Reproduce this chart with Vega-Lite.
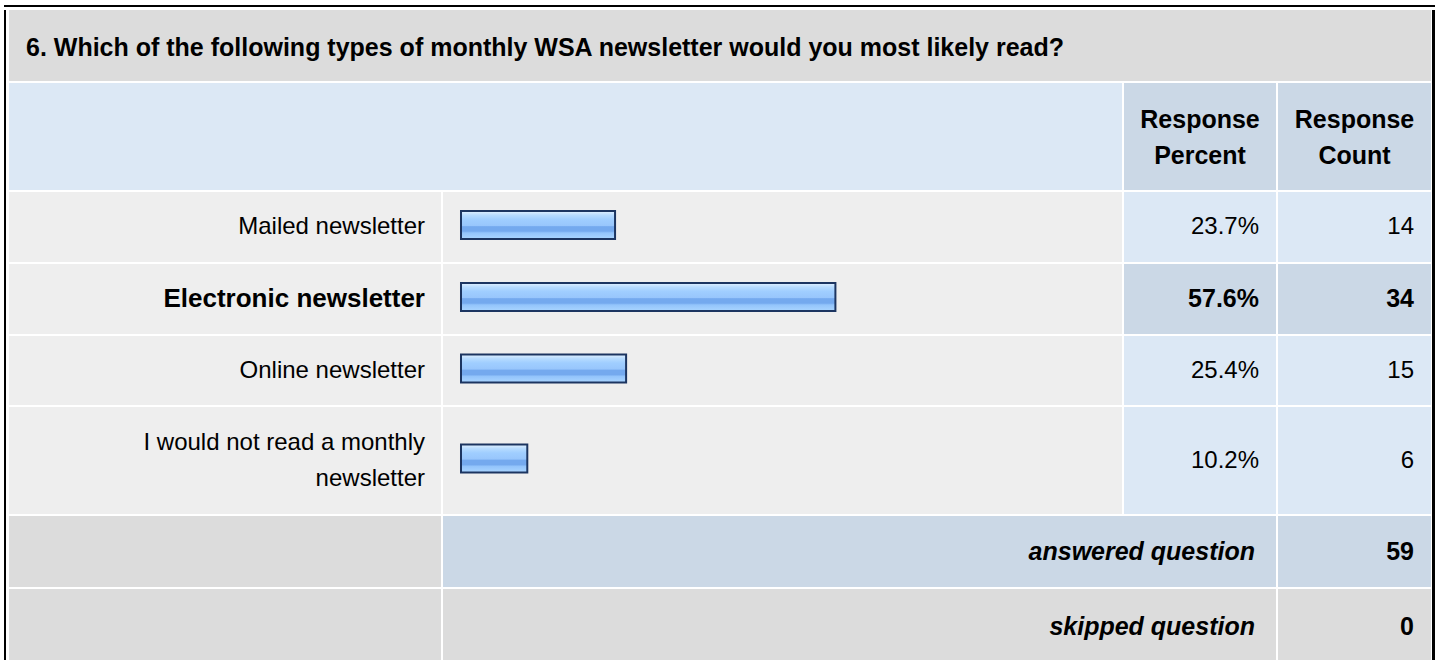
{
  "$schema": "https://vega.github.io/schema/vega-lite/v6.json",
  "background": "white",
  "padding": {"left": 4, "top": 5, "right": 5, "bottom": 0},
  "config": {
    "view": {"stroke": null},
    "text": {"font": "Liberation Sans", "fontSize": 24, "color": "#000000", "baseline": "middle"}
  },
  "datasets": {
    "question": [{"question": "6. Which of the following types of monthly WSA newsletter would you most likely read?"}],
    "columns": [{"column": "Response Percent"}, {"column": "Response Count"}],
    "answers": [
      {"answer": "Mailed newsletter", "percent": 0.237, "count": 14},
      {"answer": "Electronic newsletter", "percent": 0.576, "count": 34},
      {"answer": "Online newsletter", "percent": 0.254, "count": 15},
      {"answer": "I would not read a monthly\nnewsletter", "percent": 0.102, "count": 6}
    ],
    "summary": [
      {"stat": "answered question", "value": 59},
      {"stat": "skipped question", "value": 0}
    ]
  },
  "spacing": 3,
  "vconcat": [
    {"width": 1431, "height": 2, "view": {"fill": "#000000"}, "data": {"values": [{}]}, "mark": {"type": "text", "text": "", "fontSize": 0}},
    {
      "spacing": 3,
      "hconcat": [
        {"width": 2, "height": 650, "view": {"fill": "#000000"}, "data": {"values": [{}]}, "mark": {"type": "text", "text": "", "fontSize": 0}},
        {
          "spacing": 1,
          "hconcat": [
            {
              "spacing": 2,
              "vconcat": [
                {"width": 1422, "height": 71, "view": {"fill": "#dcdcdc"}, "data": {"name": "question"},
                 "mark": {"type": "text", "align": "left", "x": 0, "dx": 17, "dy": 2, "fontWeight": "bold", "fontSize": 25},
                 "encoding": {"text": {"field": "question"}}},
                {"spacing": 2, "hconcat": [
                  {"width": 1113, "height": 107, "view": {"fill": "#dce8f5"}, "data": {"values": [{}]}, "mark": {"type": "text", "text": "", "fontSize": 0}},
                  {"width": 152, "height": 107, "view": {"fill": "#cbd8e6"}, "data": {"name": "columns"},
                   "transform": [{"filter": {"field": "column", "equal": "Response Percent"}}],
                   "mark": {"type": "text", "align": "center", "dy": -17, "fontWeight": "bold", "fontSize": 25, "lineBreak": " ", "lineHeight": 36},
                   "encoding": {"text": {"field": "column"}}},
                  {"width": 153, "height": 107, "view": {"fill": "#cbd8e6"}, "data": {"name": "columns"},
                   "transform": [{"filter": {"field": "column", "equal": "Response Count"}}],
                   "mark": {"type": "text", "align": "center", "dy": -17, "fontWeight": "bold", "fontSize": 25, "lineBreak": " ", "lineHeight": 36},
                   "encoding": {"text": {"field": "column"}}}
                ]},
                {"spacing": 2, "hconcat": [
                  {"width": 432, "height": 70, "view": {"fill": "#eeeeee"}, "data": {"name": "answers"},
                   "transform": [{"filter": {"field": "answer", "equal": "Mailed newsletter"}}],
                   "mark": {"type": "text", "align": "right", "x": "width", "dx": -16},
                   "encoding": {"text": {"field": "answer"}}},
                  {"width": 679, "height": 70, "view": {"fill": "#eeeeee"}, "data": {"name": "answers"},
                   "transform": [{"filter": {"field": "answer", "equal": "Mailed newsletter"}}],
                   "mark": {"type": "bar", "height": 28, "yOffset": -2, "stroke": "#1c3561", "strokeWidth": 2,
                     "fill": {"gradient": "linear", "x1": 0, "y1": 0, "x2": 0, "y2": 1, "stops": [
                       {"offset": 0, "color": "#e2f1ff"}, {"offset": 0.15, "color": "#b6dbff"}, {"offset": 0.3, "color": "#a0ceff"},
                       {"offset": 0.52, "color": "#98c6fc"}, {"offset": 0.56, "color": "#74a9ee"}, {"offset": 0.72, "color": "#74a9ee"},
                       {"offset": 0.78, "color": "#93c4fb"}, {"offset": 1, "color": "#aad5ff"}]}},
                   "encoding": {"x": {"field": "percent", "type": "quantitative", "axis": null, "scale": {"domain": [-0.02769, 1.0169], "nice": false}}}},
                  {"width": 152, "height": 70, "view": {"fill": "#dce8f5"}, "data": {"name": "answers"},
                   "transform": [{"filter": {"field": "answer", "equal": "Mailed newsletter"}}],
                   "mark": {"type": "text", "align": "right", "x": "width", "dx": -17},
                   "encoding": {"text": {"field": "percent", "format": ".1%"}}},
                  {"width": 153, "height": 70, "view": {"fill": "#dce8f5"}, "data": {"name": "answers"},
                   "transform": [{"filter": {"field": "answer", "equal": "Mailed newsletter"}}],
                   "mark": {"type": "text", "align": "right", "x": "width", "dx": -17},
                   "encoding": {"text": {"field": "count"}}}
                ]},
                {"spacing": 2, "hconcat": [
                  {"width": 432, "height": 70, "view": {"fill": "#eeeeee"}, "data": {"name": "answers"},
                   "transform": [{"filter": {"field": "answer", "equal": "Electronic newsletter"}}],
                   "mark": {"type": "text", "align": "right", "x": "width", "dx": -16, "fontWeight": "bold", "fontSize": 26},
                   "encoding": {"text": {"field": "answer"}}},
                  {"width": 679, "height": 70, "view": {"fill": "#eeeeee"}, "data": {"name": "answers"},
                   "transform": [{"filter": {"field": "answer", "equal": "Electronic newsletter"}}],
                   "mark": {"type": "bar", "height": 28, "yOffset": -2, "stroke": "#1c3561", "strokeWidth": 2,
                     "fill": {"gradient": "linear", "x1": 0, "y1": 0, "x2": 0, "y2": 1, "stops": [
                       {"offset": 0, "color": "#e2f1ff"}, {"offset": 0.15, "color": "#b6dbff"}, {"offset": 0.3, "color": "#a0ceff"},
                       {"offset": 0.52, "color": "#98c6fc"}, {"offset": 0.56, "color": "#74a9ee"}, {"offset": 0.72, "color": "#74a9ee"},
                       {"offset": 0.78, "color": "#93c4fb"}, {"offset": 1, "color": "#aad5ff"}]}},
                   "encoding": {"x": {"field": "percent", "type": "quantitative", "axis": null, "scale": {"domain": [-0.02769, 1.0169], "nice": false}}}},
                  {"width": 152, "height": 70, "view": {"fill": "#cbd8e6"}, "data": {"name": "answers"},
                   "transform": [{"filter": {"field": "answer", "equal": "Electronic newsletter"}}],
                   "mark": {"type": "text", "align": "right", "x": "width", "dx": -17, "fontWeight": "bold", "fontSize": 25},
                   "encoding": {"text": {"field": "percent", "format": ".1%"}}},
                  {"width": 153, "height": 70, "view": {"fill": "#cbd8e6"}, "data": {"name": "answers"},
                   "transform": [{"filter": {"field": "answer", "equal": "Electronic newsletter"}}],
                   "mark": {"type": "text", "align": "right", "x": "width", "dx": -17, "fontWeight": "bold", "fontSize": 25},
                   "encoding": {"text": {"field": "count"}}}
                ]},
                {"spacing": 2, "hconcat": [
                  {"width": 432, "height": 69, "view": {"fill": "#eeeeee"}, "data": {"name": "answers"},
                   "transform": [{"filter": {"field": "answer", "equal": "Online newsletter"}}],
                   "mark": {"type": "text", "align": "right", "x": "width", "dx": -16},
                   "encoding": {"text": {"field": "answer"}}},
                  {"width": 679, "height": 69, "view": {"fill": "#eeeeee"}, "data": {"name": "answers"},
                   "transform": [{"filter": {"field": "answer", "equal": "Online newsletter"}}],
                   "mark": {"type": "bar", "height": 28, "yOffset": -2, "stroke": "#1c3561", "strokeWidth": 2,
                     "fill": {"gradient": "linear", "x1": 0, "y1": 0, "x2": 0, "y2": 1, "stops": [
                       {"offset": 0, "color": "#e2f1ff"}, {"offset": 0.15, "color": "#b6dbff"}, {"offset": 0.3, "color": "#a0ceff"},
                       {"offset": 0.52, "color": "#98c6fc"}, {"offset": 0.56, "color": "#74a9ee"}, {"offset": 0.72, "color": "#74a9ee"},
                       {"offset": 0.78, "color": "#93c4fb"}, {"offset": 1, "color": "#aad5ff"}]}},
                   "encoding": {"x": {"field": "percent", "type": "quantitative", "axis": null, "scale": {"domain": [-0.02769, 1.0169], "nice": false}}}},
                  {"width": 152, "height": 69, "view": {"fill": "#dce8f5"}, "data": {"name": "answers"},
                   "transform": [{"filter": {"field": "answer", "equal": "Online newsletter"}}],
                   "mark": {"type": "text", "align": "right", "x": "width", "dx": -17},
                   "encoding": {"text": {"field": "percent", "format": ".1%"}}},
                  {"width": 153, "height": 69, "view": {"fill": "#dce8f5"}, "data": {"name": "answers"},
                   "transform": [{"filter": {"field": "answer", "equal": "Online newsletter"}}],
                   "mark": {"type": "text", "align": "right", "x": "width", "dx": -17},
                   "encoding": {"text": {"field": "count"}}}
                ]},
                {"spacing": 2, "hconcat": [
                  {"width": 432, "height": 107, "view": {"fill": "#eeeeee"}, "data": {"name": "answers"},
                   "transform": [{"filter": {"field": "answer", "equal": "I would not read a monthly\nnewsletter"}}],
                   "mark": {"type": "text", "align": "right", "x": "width", "dx": -16, "dy": -18, "lineBreak": "\n", "lineHeight": 36},
                   "encoding": {"text": {"field": "answer"}}},
                  {"width": 679, "height": 107, "view": {"fill": "#eeeeee"}, "data": {"name": "answers"},
                   "transform": [{"filter": {"field": "answer", "equal": "I would not read a monthly\nnewsletter"}}],
                   "mark": {"type": "bar", "height": 28, "yOffset": -2, "stroke": "#1c3561", "strokeWidth": 2,
                     "fill": {"gradient": "linear", "x1": 0, "y1": 0, "x2": 0, "y2": 1, "stops": [
                       {"offset": 0, "color": "#e2f1ff"}, {"offset": 0.15, "color": "#b6dbff"}, {"offset": 0.3, "color": "#a0ceff"},
                       {"offset": 0.52, "color": "#98c6fc"}, {"offset": 0.56, "color": "#74a9ee"}, {"offset": 0.72, "color": "#74a9ee"},
                       {"offset": 0.78, "color": "#93c4fb"}, {"offset": 1, "color": "#aad5ff"}]}},
                   "encoding": {"x": {"field": "percent", "type": "quantitative", "axis": null, "scale": {"domain": [-0.02769, 1.0169], "nice": false}}}},
                  {"width": 152, "height": 107, "view": {"fill": "#dce8f5"}, "data": {"name": "answers"},
                   "transform": [{"filter": {"field": "answer", "equal": "I would not read a monthly\nnewsletter"}}],
                   "mark": {"type": "text", "align": "right", "x": "width", "dx": -17},
                   "encoding": {"text": {"field": "percent", "format": ".1%"}}},
                  {"width": 153, "height": 107, "view": {"fill": "#dce8f5"}, "data": {"name": "answers"},
                   "transform": [{"filter": {"field": "answer", "equal": "I would not read a monthly\nnewsletter"}}],
                   "mark": {"type": "text", "align": "right", "x": "width", "dx": -17},
                   "encoding": {"text": {"field": "count"}}}
                ]},
                {"spacing": 2, "hconcat": [
                  {"width": 432, "height": 71, "view": {"fill": "#dcdcdc"}, "data": {"values": [{}]}, "mark": {"type": "text", "text": "", "fontSize": 0}},
                  {"width": 833, "height": 71, "view": {"fill": "#cbd8e6"}, "data": {"name": "summary"},
                   "transform": [{"filter": {"field": "stat", "equal": "answered question"}}],
                   "mark": {"type": "text", "align": "right", "x": "width", "dx": -21, "fontWeight": "bold", "fontStyle": "italic", "fontSize": 25},
                   "encoding": {"text": {"field": "stat"}}},
                  {"width": 153, "height": 71, "view": {"fill": "#cbd8e6"}, "data": {"name": "summary"},
                   "transform": [{"filter": {"field": "stat", "equal": "answered question"}}],
                   "mark": {"type": "text", "align": "right", "x": "width", "dx": -17, "fontWeight": "bold", "fontSize": 25},
                   "encoding": {"text": {"field": "value"}}}
                ]},
                {"spacing": 2, "hconcat": [
                  {"width": 432, "height": 71, "view": {"fill": "#dcdcdc"}, "data": {"values": [{}]}, "mark": {"type": "text", "text": "", "fontSize": 0}},
                  {"width": 833, "height": 71, "view": {"fill": "#dcdcdc"}, "data": {"name": "summary"},
                   "transform": [{"filter": {"field": "stat", "equal": "skipped question"}}],
                   "mark": {"type": "text", "align": "right", "x": "width", "dx": -21, "dy": 2, "fontWeight": "bold", "fontStyle": "italic", "fontSize": 25},
                   "encoding": {"text": {"field": "stat"}}},
                  {"width": 153, "height": 71, "view": {"fill": "#dcdcdc"}, "data": {"name": "summary"},
                   "transform": [{"filter": {"field": "stat", "equal": "skipped question"}}],
                   "mark": {"type": "text", "align": "right", "x": "width", "dx": -17, "dy": 2, "fontWeight": "bold", "fontSize": 25},
                   "encoding": {"text": {"field": "value"}}}
                ]}
              ]
            },
            {"width": 3, "height": 650, "view": {"fill": "#000000"}, "data": {"values": [{}]}, "mark": {"type": "text", "text": "", "fontSize": 0}}
          ]
        }
      ]
    }
  ]
}
